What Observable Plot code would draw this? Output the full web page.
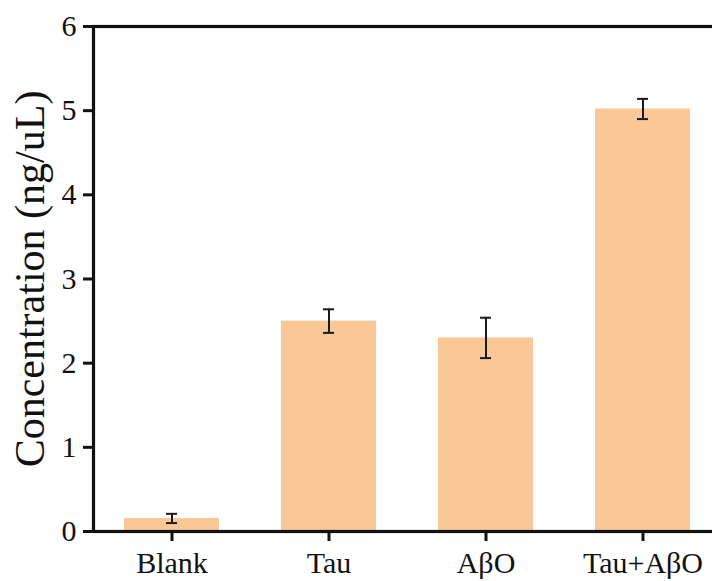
<!DOCTYPE html>
<html>
<head>
<meta charset="utf-8">
<script src="https://cdn.jsdelivr.net/npm/d3@7"></script>
<script src="https://cdn.jsdelivr.net/npm/@observablehq/plot@0.6"></script>
<style>
  html, body { margin: 0; padding: 0; background: #fff; overflow: hidden; }
</style>
</head>
<body>
<div id="chart"></div>
<script>
// Measured concentrations per sample group (mean ± error)
const groups = ["Blank", "Tau", "AβO", "Tau+AβO"];
const means = [0.155, 2.50, 2.30, 5.02];
const errors = [0.055, 0.14, 0.24, 0.12];
const yTicks = [0, 1, 2, 3, 4, 5, 6];
const yLabel = "Concentration (ng/uL)";

const rows = groups.map((g, i) => ({group: g, mean: means[i], lo: means[i] - errors[i], hi: means[i] + errors[i]}));

const serif = "'Liberation Serif', 'Times New Roman', Times, serif";
const ink = "#111";
const W = 712, H = 581, ML = 93, MT = 26, MB = 50;
const TICK = 10;

const chart = Plot.plot({
  width: W,
  height: H,
  marginLeft: ML,
  marginRight: 0,
  marginTop: MT,
  marginBottom: MB,
  style: {fontFamily: serif, fontSize: "30px", background: "#fff", color: ink},
  x: {domain: groups, range: [ML, 721], paddingInner: 0.395, paddingOuter: 0.1975},
  y: {domain: [0, 6]},
  marks: [
    Plot.barY(rows, {x: "group", y: "mean", fill: "#FAC896"}),
    Plot.ruleX(rows, {x: "group", y1: "lo", y2: "hi", stroke: "#1a1a1a", strokeWidth: 2}),
    Plot.tickY(rows, {x: "group", y: "lo", stroke: "#1a1a1a", strokeWidth: 2, inset: 42}),
    Plot.tickY(rows, {x: "group", y: "hi", stroke: "#1a1a1a", strokeWidth: 2, inset: 42}),
    // left, top and bottom border; right edge pushed outside the view
    Plot.frame({stroke: ink, strokeWidth: 3.2, insetRight: -30}),
    // heavy outward tick marks
    Plot.tickY(yTicks, {y: d => d, stroke: ink, strokeWidth: 3, insetLeft: 0, insetRight: W - ML - TICK, dx: -TICK}),
    Plot.tickX(groups, {x: d => d, stroke: ink, strokeWidth: 3, insetTop: H - MT - MB - TICK, dy: TICK}),
    Plot.axisY({
      ticks: yTicks, tickFormat: "d", tickSize: 0, tickPadding: TICK + 7,
      fontSize: 30, label: null, fill: ink
    }),
    Plot.axisX({
      tickSize: 0, tickPadding: TICK + 10,
      fontSize: 30, label: null, fill: ink
    }),
    Plot.text([yLabel], {
      frameAnchor: "left", rotate: -90, dx: -50, lineAnchor: "bottom",
      fontSize: 42, fill: ink, textAnchor: "middle"
    })
  ]
});

document.getElementById("chart").appendChild(chart);
</script>
</body>
</html>
